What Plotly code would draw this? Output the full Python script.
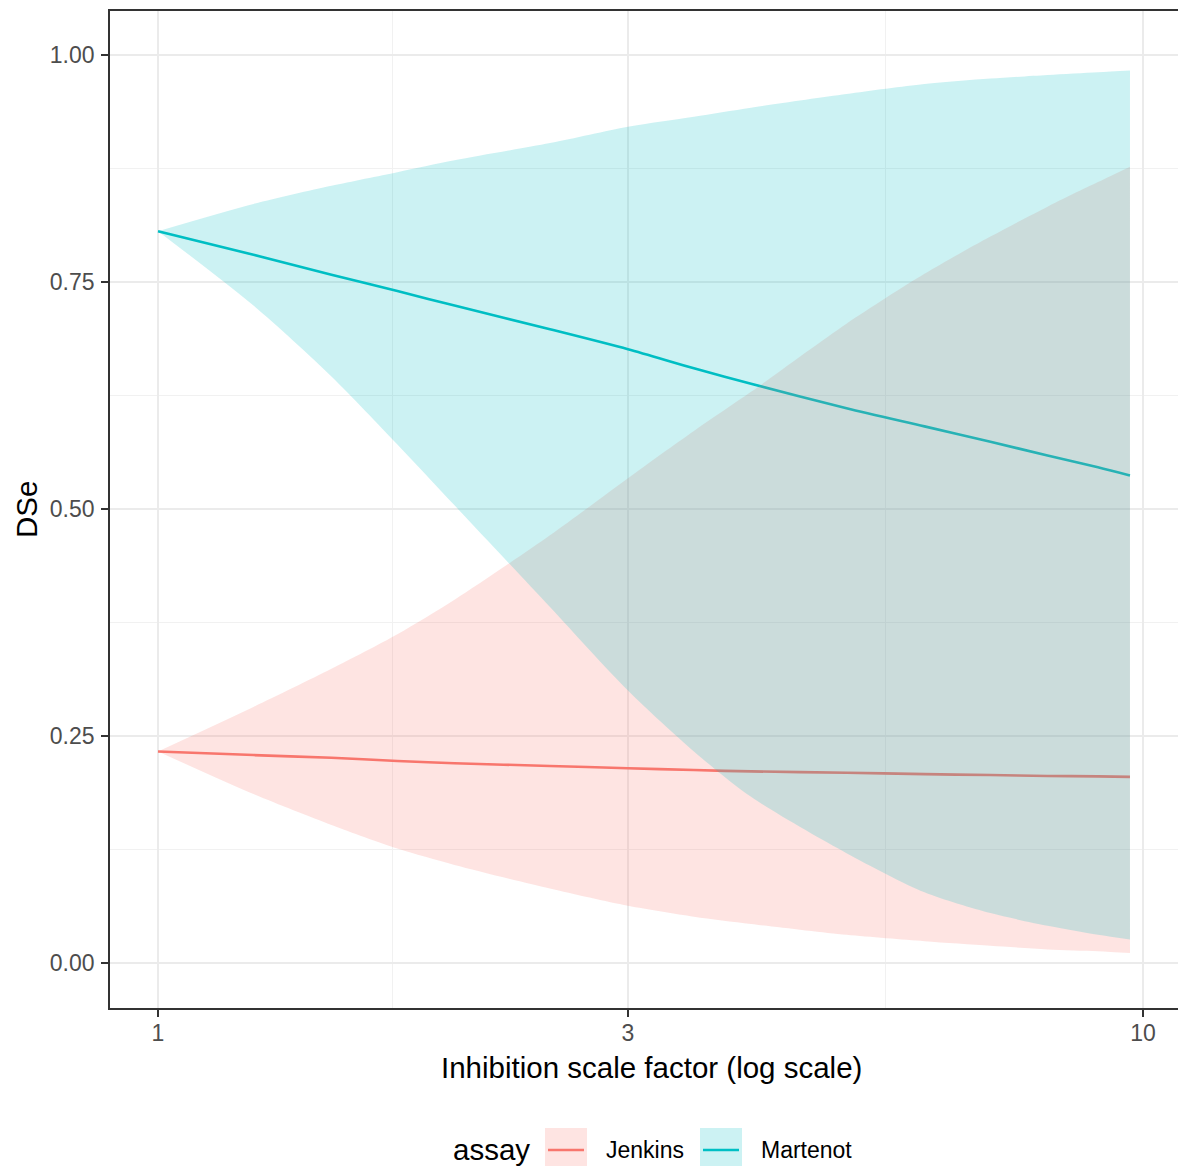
import math
import plotly.graph_objects as go

# ---------------- data ----------------
scale_factor = [1, 1.25, 1.5, 1.75, 2, 2.5, 3, 3.5, 4, 5, 6, 7, 8, 9, 9.7]

jenkins_dse = [0.233, 0.229, 0.226, 0.2225, 0.220, 0.217, 0.2145, 0.2125, 0.211,
               0.2095, 0.208, 0.207, 0.206, 0.2055, 0.205]
jenkins_lower = [0.233, 0.186, 0.152, 0.126, 0.108, 0.082, 0.063, 0.051, 0.043,
                 0.031, 0.024, 0.019, 0.015, 0.013, 0.011]
jenkins_upper = [0.233, 0.282, 0.324, 0.362, 0.400, 0.471, 0.534, 0.586, 0.629,
                 0.704, 0.759, 0.800, 0.833, 0.860, 0.877]

martenot_dse = [0.806, 0.780, 0.758, 0.740, 0.724, 0.698, 0.676, 0.655, 0.638,
                0.611, 0.591, 0.574, 0.559, 0.546, 0.537]
martenot_lower = [0.806, 0.724, 0.646, 0.571, 0.504, 0.392, 0.300, 0.233, 0.183,
                  0.121, 0.078, 0.055, 0.041, 0.031, 0.026]
martenot_upper = [0.806, 0.836, 0.856, 0.871, 0.884, 0.903, 0.921, 0.932, 0.942,
                  0.957, 0.968, 0.974, 0.978, 0.981, 0.983]

assays = ["Jenkins", "Martenot"]
x_ticks = [1, 3, 10]
x_minor = [math.sqrt(3), math.sqrt(30)]
y_ticks = [0, 0.25, 0.5, 0.75, 1.0]
y_minor = [0.125, 0.375, 0.625, 0.875]

# ---------------- styling ----------------
COL = {"Jenkins": "#F8766D", "Martenot": "#00BFC4"}
FILL = {"Jenkins": "rgba(248,118,109,0.2)", "Martenot": "rgba(0,191,196,0.2)"}
FONT = "Liberation Sans, Arial, Helvetica, sans-serif"

# the page body has an 8px margin, so the figure starts at (8, 8) on screen
OFF = 8
SCREEN_W, SCREEN_H = 1186, 1166
W, H = SCREEN_W - OFF, SCREEN_H - OFF
# plot panel on screen
SL, ST, SB, SR = 110, 11, 1008, SCREEN_W
L, T = SL - OFF, ST - OFF
B = H - (SB - OFF)
R = 0
PW, PH = SR - SL, SB - ST


def px(xp):
    return (xp - SL) / PW


def py(yp):
    return (SB - yp) / PH


series = {
    "Jenkins": (jenkins_dse, jenkins_lower, jenkins_upper),
    "Martenot": (martenot_dse, martenot_lower, martenot_upper),
}

fig = go.Figure()

# lines first (ggplot layer order), then ribbons on top
for a in assays:
    mean, lo, hi = series[a]
    fig.add_trace(go.Scatter(x=scale_factor, y=mean, mode="lines",
                             line=dict(color=COL[a], width=2.6, shape="spline",
                                       smoothing=0.8),
                             showlegend=False, hoverinfo="skip"))
for a in assays:
    mean, lo, hi = series[a]
    fig.add_trace(go.Scatter(x=scale_factor, y=lo, mode="lines",
                             line=dict(width=0, shape="spline", smoothing=0.8),
                             showlegend=False, hoverinfo="skip"))
    fig.add_trace(go.Scatter(x=scale_factor, y=hi, mode="lines", fill="tonexty",
                             fillcolor=FILL[a],
                             line=dict(width=0, shape="spline", smoothing=0.8),
                             showlegend=False, hoverinfo="skip"))

# axis ranges reproducing ggplot's expansion (panel runs past right edge)
xl = (SL - 158) / 985
xr = (SR - 158) / 985
yb = -(SB - 963) / 908
yt = 1 + (55 - ST) / 908

fig.update_xaxes(type="log", range=[xl, xr], tickvals=x_ticks,
                 ticktext=[str(v) for v in x_ticks],
                 showgrid=True, gridcolor="#EBEBEB", gridwidth=1.8,
                 minor=dict(tickvals=x_minor, showgrid=True, gridcolor="#F1F1F1",
                            gridwidth=1.2, ticks=""),
                 showline=True, linecolor="#333333", linewidth=1.8, mirror=True,
                 ticks="outside", ticklen=7, tickwidth=1.8, tickcolor="#333333",
                 ticklabelstandoff=-4,
                 tickfont=dict(family=FONT, size=23, color="#4D4D4D"),
                 zeroline=False)
fig.update_yaxes(range=[yb, yt], tickvals=y_ticks,
                 ticktext=[f"{v:.2f}" for v in y_ticks],
                 showgrid=True, gridcolor="#EBEBEB", gridwidth=1.8,
                 minor=dict(tickvals=y_minor, showgrid=True, gridcolor="#F1F1F1",
                            gridwidth=1.2, ticks=""),
                 showline=True, linecolor="#333333", linewidth=1.8, mirror=False,
                 ticks="outside", ticklen=7, tickwidth=1.8, tickcolor="#333333",
                 ticklabelstandoff=2,
                 tickfont=dict(family=FONT, size=23, color="#4D4D4D"),
                 zeroline=False)

ann = []
# axis titles
ann.append(dict(text="Inhibition scale factor (log scale)", xref="paper", yref="paper",
                x=px(651), y=py(1067), xanchor="center", yanchor="middle",
                showarrow=False, font=dict(family=FONT, size=29.5, color="black")))
ann.append(dict(text="DSe", xref="paper", yref="paper", x=px(27), y=py(510),
                xanchor="center", yanchor="middle", textangle=-90,
                showarrow=False, font=dict(family=FONT, size=29.5, color="black")))

# legend (drawn manually to mirror ggplot's bottom legend)
ann.append(dict(text="assay", xref="paper", yref="paper", x=px(451), y=py(1149),
                xanchor="left", yanchor="middle", showarrow=False,
                font=dict(family=FONT, size=29.5, color="black")))
shapes = []
key_x = {"Jenkins": 545, "Martenot": 700}
lab_x = {"Jenkins": 604, "Martenot": 759}
for a in assays:
    k = key_x[a]
    shapes.append(dict(type="rect", xref="paper", yref="paper",
                       x0=px(k), x1=px(k + 42), y0=py(1128), y1=py(1170),
                       fillcolor=FILL[a], line=dict(width=0), layer="above"))
    shapes.append(dict(type="line", xref="paper", yref="paper",
                       x0=px(k + 3), x1=px(k + 39), y0=py(1150), y1=py(1150),
                       line=dict(color=COL[a], width=2.6), layer="above"))
    ann.append(dict(text=a, xref="paper", yref="paper", x=px(lab_x[a]), y=py(1150),
                    xanchor="left", yanchor="middle", showarrow=False,
                    font=dict(family=FONT, size=23, color="black")))

fig.update_layout(width=W, height=H, autosize=False,
                  margin=dict(l=L, r=R, t=T, b=B, pad=0),
                  paper_bgcolor="white", plot_bgcolor="white",
                  showlegend=False, annotations=ann, shapes=shapes,
                  font=dict(family=FONT))

fig.write_html("out.html")
